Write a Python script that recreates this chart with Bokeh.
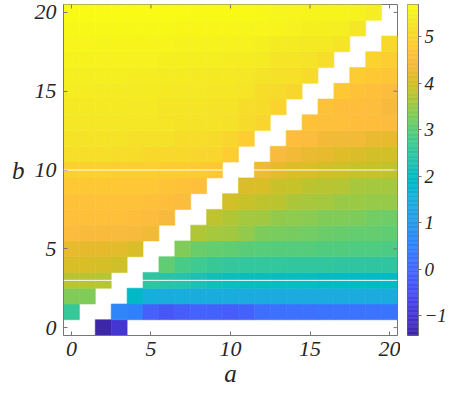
import numpy as np
from bokeh.plotting import figure
from bokeh.layouts import row
from bokeh.models import (ColumnDataSource, LinearColorMapper, FixedTicker,
                          Range1d, LinearAxis, Span)
from bokeh.transform import transform
from bokeh.embed import file_html
from bokeh.resources import INLINE

# ---------------- data ----------------
a_values = list(range(21))
b_values = list(range(21))
N = None
# z_rows[b][a]; None = no value (white)
z_rows = [
    [N, N, -1.43, -1.0, N, N, N, N, N, N, N, N, N, N, N, N, N, N, N, N, N],
    [2.63, N, N, 0.6, 0.45, -0.15, -0.3, -0.2, -0.08, -0.1, -0.18, -0.12, 0.15, 0.18, 0.2, 0.2, 0.22, 0.22, 0.23, 0.23, 0.24],
    [3.32, 3.3, N, N, 1.92, 1.55, 1.5, 1.5, 1.48, 1.47, 1.47, 1.46, 1.46, 1.45, 1.45, 1.45, 1.44, 1.44, 1.44, 1.45, 1.45],
    [3.77, 3.76, 3.72, N, N, 2.5, 2.4, 2.33, 2.22, 2.15, 2.1, 2.07, 2.05, 2.04, 2.03, 2.02, 2.0, 1.98, 1.97, 1.96, 1.96],
    [4.06, 4.05, 4.04, 3.95, N, N, 3.05, 2.85, 2.72, 2.65, 2.6, 2.57, 2.56, 2.55, 2.54, 2.53, 2.52, 2.51, 2.5, 2.5, 2.5],
    [4.22, 4.21, 4.2, 4.18, 4.05, N, N, 3.3, 3.15, 3.1, 3.05, 3.0, 2.97, 2.96, 2.95, 2.94, 2.92, 2.91, 2.9, 2.89, 2.88],
    [4.5, 4.49, 4.48, 4.46, 4.42, 4.33, N, N, 3.7, 3.6, 3.55, 3.45, 3.28, 3.25, 3.22, 3.2, 3.14, 3.12, 3.1, 3.08, 3.06],
    [4.6, 4.6, 4.59, 4.58, 4.57, 4.52, 4.42, N, N, 3.8, 3.7, 3.6, 3.56, 3.45, 3.42, 3.4, 3.32, 3.3, 3.28, 3.2, 3.18],
    [4.64, 4.63, 4.63, 4.62, 4.62, 4.6, 4.57, 4.5, N, N, 4.0, 3.9, 3.82, 3.78, 3.65, 3.62, 3.6, 3.52, 3.5, 3.49, 3.48],
    [4.76, 4.76, 4.75, 4.75, 4.74, 4.73, 4.67, 4.64, 4.58, N, N, 4.1, 4.05, 3.92, 3.88, 3.78, 3.75, 3.72, 3.62, 3.6, 3.58],
    [4.9, 4.9, 4.89, 4.88, 4.88, 4.86, 4.82, 4.8, 4.78, 4.72, N, N, 4.3, 4.2, 4.08, 4.05, 3.97, 3.94, 3.88, 3.86, 3.84],
    [5.15, 5.15, 5.14, 5.13, 5.12, 5.07, 5.05, 5.04, 5.02, 5.0, 4.85, N, N, 4.45, 4.35, 4.27, 4.24, 4.12, 4.1, 4.02, 4.0],
    [5.23, 5.23, 5.22, 5.22, 5.21, 5.2, 5.19, 5.13, 5.12, 5.1, 5.0, 4.85, N, N, 4.56, 4.5, 4.38, 4.35, 4.33, 4.26, 4.24],
    [5.3, 5.3, 5.3, 5.29, 5.29, 5.28, 5.25, 5.24, 5.23, 5.22, 5.2, 5.1, 5.0, N, N, 4.66, 4.6, 4.58, 4.57, 4.56, 4.5],
    [5.34, 5.34, 5.33, 5.33, 5.32, 5.31, 5.27, 5.26, 5.25, 5.24, 5.22, 5.12, 5.1, 4.95, N, N, 4.64, 4.57, 4.55, 4.54, 4.42],
    [5.39, 5.39, 5.38, 5.38, 5.37, 5.36, 5.33, 5.32, 5.31, 5.3, 5.29, 5.27, 5.12, 5.1, 5.0, N, N, 4.76, 4.66, 4.6, 4.52],
    [5.43, 5.43, 5.42, 5.42, 5.41, 5.4, 5.37, 5.36, 5.35, 5.34, 5.33, 5.3, 5.22, 5.2, 5.18, 5.1, N, N, 4.82, 4.76, 4.7],
    [5.5, 5.5, 5.49, 5.49, 5.48, 5.47, 5.45, 5.44, 5.43, 5.42, 5.41, 5.4, 5.38, 5.27, 5.25, 5.22, 5.15, N, N, 4.96, 4.86],
    [5.56, 5.56, 5.55, 5.55, 5.55, 5.54, 5.53, 5.51, 5.5, 5.5, 5.49, 5.48, 5.46, 5.37, 5.36, 5.35, 5.33, 5.25, N, N, 5.06],
    [5.63, 5.63, 5.62, 5.62, 5.62, 5.61, 5.61, 5.6, 5.6, 5.6, 5.58, 5.57, 5.56, 5.55, 5.47, 5.46, 5.45, 5.43, 5.3, N, N],
    [5.69, 5.69, 5.69, 5.68, 5.68, 5.68, 5.67, 5.67, 5.66, 5.66, 5.65, 5.64, 5.63, 5.57, 5.56, 5.55, 5.54, 5.53, 5.5, 5.42, N],
]
hline_b = [3, 10]
x_ticks = [0, 5, 10, 15, 20]
y_ticks = [0, 5, 10, 15, 20]
cbar_ticks = [-1, 0, 1, 2, 3, 4, 5]
c_low, c_high = -1.43, 5.69

# ---------------- parula colormap ----------------
parula64 = [
    (0.2422, 0.1504, 0.6603), (0.2504, 0.1650, 0.7076), (0.2578, 0.1818, 0.7511), (0.2647, 0.1978, 0.7952),
    (0.2706, 0.2147, 0.8364), (0.2751, 0.2342, 0.8710), (0.2783, 0.2559, 0.8991), (0.2803, 0.2782, 0.9221),
    (0.2813, 0.3006, 0.9414), (0.2810, 0.3228, 0.9579), (0.2795, 0.3447, 0.9717), (0.2760, 0.3667, 0.9829),
    (0.2699, 0.3892, 0.9906), (0.2602, 0.4123, 0.9952), (0.2440, 0.4358, 0.9988), (0.2206, 0.4603, 0.9973),
    (0.1963, 0.4847, 0.9892), (0.1834, 0.5074, 0.9798), (0.1786, 0.5289, 0.9682), (0.1764, 0.5499, 0.9520),
    (0.1687, 0.5703, 0.9359), (0.1540, 0.5902, 0.9218), (0.1460, 0.6091, 0.9079), (0.1380, 0.6276, 0.8973),
    (0.1248, 0.6459, 0.8883), (0.1113, 0.6635, 0.8763), (0.0952, 0.6798, 0.8598), (0.0689, 0.6948, 0.8394),
    (0.0297, 0.7082, 0.8163), (0.0036, 0.7203, 0.7917), (0.0067, 0.7312, 0.7660), (0.0433, 0.7411, 0.7394),
    (0.0964, 0.7500, 0.7120), (0.1408, 0.7584, 0.6842), (0.1717, 0.7670, 0.6554), (0.1938, 0.7758, 0.6251),
    (0.2161, 0.7843, 0.5923), (0.2470, 0.7918, 0.5567), (0.2906, 0.7973, 0.5188), (0.3406, 0.8008, 0.4789),
    (0.3909, 0.8029, 0.4354), (0.4456, 0.8024, 0.3909), (0.5044, 0.7993, 0.3480), (0.5616, 0.7942, 0.3045),
    (0.6174, 0.7876, 0.2612), (0.6720, 0.7793, 0.2227), (0.7242, 0.7698, 0.1910), (0.7738, 0.7598, 0.1646),
    (0.8203, 0.7498, 0.1535), (0.8634, 0.7406, 0.1596), (0.9035, 0.7330, 0.1774), (0.9393, 0.7288, 0.2100),
    (0.9728, 0.7298, 0.2394), (0.9956, 0.7434, 0.2371), (0.9970, 0.7659, 0.2199), (0.9952, 0.7893, 0.2028),
    (0.9892, 0.8136, 0.1885), (0.9786, 0.8386, 0.1766), (0.9676, 0.8639, 0.1643), (0.9610, 0.8890, 0.1537),
    (0.9597, 0.9135, 0.1423), (0.9628, 0.9373, 0.1265), (0.9691, 0.9606, 0.1064), (0.9769, 0.9839, 0.0805),
]
arr = np.array(parula64)
xs = np.linspace(0, 1, len(arr))
xi = np.linspace(0, 1, 256)
palette = []
for t in xi:
    r = np.interp(t, xs, arr[:, 0]); g = np.interp(t, xs, arr[:, 1]); b = np.interp(t, xs, arr[:, 2])
    palette.append("#%02x%02x%02x" % (int(round(r * 255)), int(round(g * 255)), int(round(b * 255))))

mapper = LinearColorMapper(palette=palette, low=c_low, high=c_high, nan_color="white")

# ---------------- source ----------------
A, B, Z = [], [], []
for bi, row_vals in zip(b_values, z_rows):
    for ai, v in zip(a_values, row_vals):
        if v is not None:
            A.append(ai); B.append(bi); Z.append(v)
src = ColumnDataSource(dict(a=A, b=B, z=Z))

FONT = "Liberation Serif"
GREY = "#767676"
TXT = "#262626"
TOP, BOTTOM = 4, 61
FIG_H = 397

xr = Range1d(-0.5, 20.5)
yr = Range1d(-0.5, 20.5)
p = figure(width=400, height=FIG_H, x_range=xr, y_range=yr,
           x_axis_type=None, y_axis_type=None, output_backend="svg", toolbar_location=None,
           min_border_left=63, min_border_right=3, min_border_top=TOP, min_border_bottom=BOTTOM)
p.grid.visible = False
p.outline_line_color = GREY
p.background_fill_color = "white"
p.border_fill_color = "white"

p.rect(x="a", y="b", width=1, height=1, source=src,
       fill_color=transform("z", mapper), line_color=transform("z", mapper), line_width=0.6)

for yb in hline_b:
    p.add_layout(Span(location=yb, dimension="width", line_color="white", line_width=1, line_alpha=0.95))

# inward ticks on top and right edges of the box
p.ray(x=x_ticks, y=[yr.end] * len(x_ticks), length=4, length_units="screen",
      angle=-np.pi / 2, line_color=GREY, line_width=1)
p.ray(x=[xr.end] * len(y_ticks), y=y_ticks, length=4, length_units="screen",
      angle=np.pi, line_color=GREY, line_width=1)

def make_axis(ticks):
    ax = LinearAxis(ticker=FixedTicker(ticks=ticks))
    ax.major_tick_in = 4
    ax.major_tick_out = 0
    ax.minor_tick_line_color = None
    ax.axis_line_color = GREY
    ax.major_tick_line_color = GREY
    ax.major_label_text_font = FONT
    ax.major_label_text_font_style = "italic"
    ax.major_label_text_color = TXT
    ax.major_label_text_font_size = "22px"
    ax.axis_label_text_font = FONT
    ax.axis_label_text_font_style = "italic"
    ax.axis_label_text_font_size = "25px"
    ax.axis_label_text_color = TXT
    return ax

xb = make_axis(x_ticks)
xb.major_label_standoff = 6
xb.axis_label = "a"
xb.axis_label_standoff = 1
p.add_layout(xb, "below")

yl = make_axis(y_ticks)
yl.major_label_standoff = 7
yl.axis_label = "b"
yl.axis_label_standoff = 7
yl.axis_label_orientation = "horizontal"
p.add_layout(yl, "left")

# ---------------- colour bar as its own small figure ----------------
n = len(palette)
edges = np.linspace(c_low, c_high, n + 1)
cb_src = ColumnDataSource(dict(bottom=edges[:-1], top=edges[1:], color=palette))
pc = figure(width=49, height=FIG_H, x_range=Range1d(0, 1), y_range=Range1d(c_low, c_high),
            x_axis_type=None, y_axis_type=None, output_backend="svg", toolbar_location=None,
            min_border_left=7, min_border_right=25, min_border_top=TOP, min_border_bottom=BOTTOM + 1)
pc.grid.visible = False
pc.outline_line_color = GREY
pc.border_fill_color = "white"
pc.quad(left=0, right=1, bottom="bottom", top="top", fill_color="color", line_color="color",
        line_width=0.5, source=cb_src)
cax = LinearAxis(ticker=FixedTicker(ticks=cbar_ticks))
cax.major_tick_in = 0
cax.major_tick_out = 3
cax.minor_tick_line_color = None
cax.axis_line_color = GREY
cax.major_tick_line_color = GREY
cax.major_label_standoff = 3
cax.major_label_text_font = FONT
cax.major_label_text_font_style = "italic"
cax.major_label_text_font_size = "19px"
cax.major_label_text_color = TXT
pc.add_layout(cax, "right")

layout = row(p, pc)
open("out.html", "w").write(file_html(layout, INLINE))
